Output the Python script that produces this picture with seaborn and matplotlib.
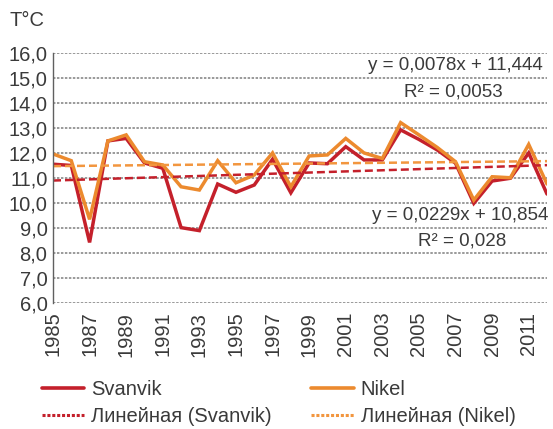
import numpy as np
import pandas as pd
import matplotlib
matplotlib.use("Agg")
import matplotlib.pyplot as plt
import seaborn as sns
from matplotlib.lines import Line2D

years = list(range(1985, 2013))
svanvik = [11.55, 11.50, 8.43, 12.48, 12.58, 11.60, 11.39, 9.02, 8.90, 10.76,
           10.43, 10.72, 11.75, 10.41, 11.60, 11.57, 12.25, 11.72, 11.72, 12.92,
           12.54, 12.12, 11.59, 9.99, 10.88, 10.99, 12.00, 10.36]
nikel = [11.96, 11.69, 9.35, 12.48, 12.72, 11.65, 11.52, 10.65, 10.52, 11.69,
         10.81, 11.12, 12.00, 10.65, 11.88, 11.92, 12.58, 12.00, 11.78, 13.21,
         12.72, 12.22, 11.65, 10.12, 11.05, 11.01, 12.34, 10.76]
series_names = ["Svanvik", "Nikel"]
trend_names = ["Линейная (Svanvik)", "Линейная (Nikel)"]
eq_texts = [("y = 0,0229x + 10,854", "R² = 0,028"),
            ("y = 0,0078x + 11,444", "R² = 0,0053")]
ytick_vals = np.arange(6, 16.1, 1.0)
xtick_vals = list(range(1985, 2012, 2))

RED = "#C4202B"
ORANGE = "#EC8A2E"
ORANGE_T = "#F2963F"
TXT = "#3a3a3a"

sns.set_theme(style="white")
plt.rcParams["font.family"] = ["Liberation Sans", "DejaVu Sans"]

df = pd.DataFrame({"year": years * 2,
                   "value": svanvik + nikel,
                   "station": ["Svanvik"] * len(years) + ["Nikel"] * len(years)})

fig = plt.figure(figsize=(5.53, 4.29), dpi=100)
ax = fig.add_axes([53 / 553, 1 - 303.3 / 429, (547 - 53) / 553, (303.3 - 52.7) / 429])

sns.lineplot(data=df, x="year", y="value", hue="station", hue_order=series_names,
             palette=[RED, ORANGE], linewidth=2.5, ax=ax, legend=False,
             solid_joinstyle="miter")

# trendlines from linear fit
idx = np.arange(1, len(years) + 1)
trend_df = []
for vals, name in zip([svanvik, nikel], trend_names):
    k, b = np.polyfit(idx, vals, 1)
    trend_df.append(pd.DataFrame({"year": years, "value": k * idx + b, "station": name}))
trend_df = pd.concat(trend_df)
for name, col in zip(trend_names, [RED, ORANGE_T]):
    sub = trend_df[trend_df.station == name]
    sns.lineplot(data=sub, x="year", y="value", color=col, linewidth=1.8,
                 ax=ax, legend=False)
    ax.lines[-1].set_dashes((3.2, 1.6))

ax.set_xlim(1985, 2012)
ax.set_ylim(6, 16)
ax.set_yticks(ytick_vals)
ax.set_yticklabels([f"{v:.1f}".replace(".", ",") for v in ytick_vals],
                   fontsize=14.5, color=TXT)
ax.set_xticks(xtick_vals)
ax.set_xticklabels([str(y) for y in xtick_vals], rotation=90, fontsize=14.5, color=TXT)
ax.tick_params(axis="y", length=0, pad=4)
ax.tick_params(axis="x", length=0, pad=6)
ax.set_xlabel("")
ax.set_ylabel("")
ax.yaxis.grid(True, color="#7f7f7f", linestyle=(0, (1.6, 1.0)), linewidth=1.1)
ax.xaxis.grid(False)
ax.set_axisbelow(True)
for s in ["top", "right", "bottom"]:
    ax.spines[s].set_visible(False)
ax.spines["left"].set_color("#606060")
ax.spines["left"].set_linewidth(1.0)

# equation labels
fig.text(543 / 553, 1 - 66 / 429, eq_texts[1][0], ha="right", va="center",
         fontsize=13.5, color=TXT)
fig.text(453 / 553, 1 - 91.7 / 429, eq_texts[1][1], ha="center", va="center",
         fontsize=13.5, color=TXT)
fig.text(548 / 553, 1 - 215.7 / 429, eq_texts[0][0], ha="right", va="center",
         fontsize=13.5, color=TXT)
fig.text(462 / 553, 1 - 241 / 429, eq_texts[0][1], ha="center", va="center",
         fontsize=13.5, color=TXT)

fig.text(9 / 553, 1 - 21 / 429, "T°C", ha="left", va="center", fontsize=14.5, color=TXT)

handles = [Line2D([], [], color=RED, linewidth=2.6),
           Line2D([], [], color=RED, linewidth=2.2, linestyle=(0, (1.0, 0.6))),
           Line2D([], [], color=ORANGE, linewidth=2.6),
           Line2D([], [], color=ORANGE_T, linewidth=2.2, linestyle=(0, (1.0, 0.6)))]
labels = [series_names[0], trend_names[0], series_names[1], trend_names[1]]
leg = fig.legend(handles, labels, ncol=2, loc="upper left",
                 bbox_to_anchor=(42 / 553, 1 - 380 / 429), frameon=False,
                 fontsize=14.5, handlelength=2.1, handletextpad=0.35,
                 columnspacing=1.95, labelspacing=0.4, borderpad=0, borderaxespad=0)
for t in leg.get_texts():
    t.set_color(TXT)

fig.savefig("out.png", dpi=100)
